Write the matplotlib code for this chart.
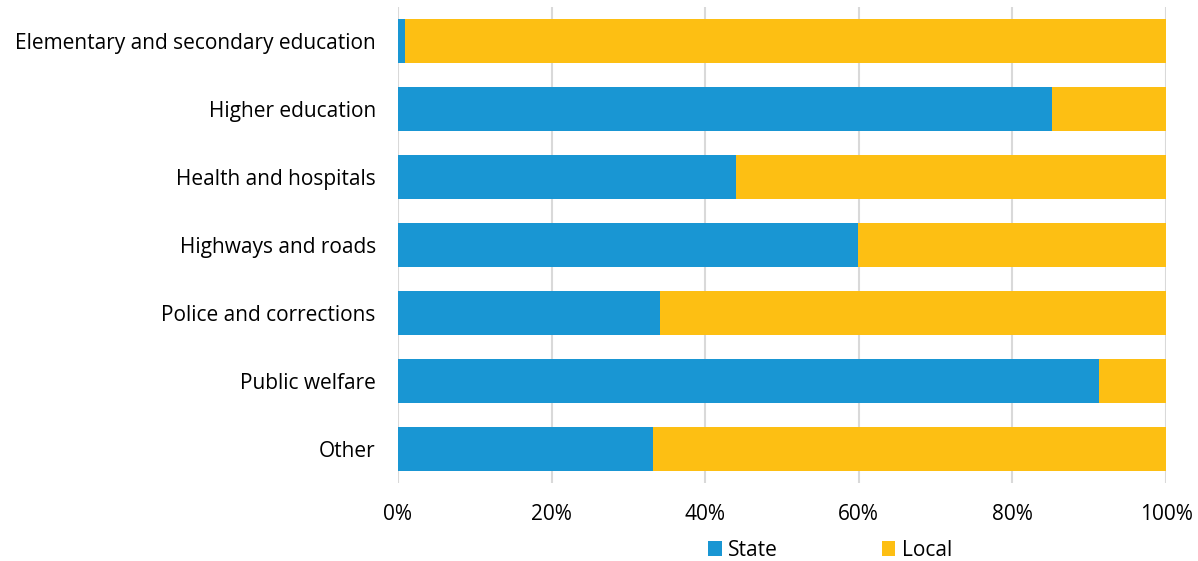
import matplotlib
matplotlib.use("Agg")
import matplotlib.pyplot as plt
from matplotlib.ticker import FuncFormatter

categories = ["Elementary and secondary education", "Higher education", "Health and hospitals",
              "Highways and roads", "Police and corrections", "Public welfare", "Other"]
state = [0.9, 85.2, 44.0, 59.9, 34.1, 91.3, 33.2]
local = [100 - s for s in state]
xticks = [0, 20, 40, 60, 80, 100]

plt.rcParams['font.family'] = ['Open Sans', 'DejaVu Sans']

fig = plt.figure(figsize=(11.98, 5.61), dpi=100)
ax = fig.add_axes([398/1198, 1 - 483/561, (1166-398)/1198, (483-7)/561])

blue = "#1996D3"
yellow = "#FDBF13"
y = list(range(len(categories)))
ax.barh(y, state, height=0.66, color=blue, label="State", zorder=3)
ax.barh(y, local, left=state, height=0.66, color=yellow, label="Local", zorder=3)

ax.set_ylim(len(categories) - 0.5, -0.5)
ax.set_xlim(0, 100)
ax.set_yticks(y)
ax.set_yticklabels(categories, fontsize=15)
ax.set_xticks(xticks)
ax.xaxis.set_major_formatter(FuncFormatter(lambda v, p: f"{v:.0f}%"))
ax.tick_params(axis='x', labelsize=15, length=0, pad=15)
ax.tick_params(axis='y', length=0, pad=16)
ax.grid(axis='x', color='#d9d9d9', linewidth=1.5, zorder=0)
for s in ax.spines.values():
    s.set_visible(False)

ax.legend(loc='center', bbox_to_anchor=(0.5625, (483-550)/476), ncol=2, frameon=False,
          fontsize=15, handlelength=0.65, handleheight=0.75, handletextpad=0.3, columnspacing=5.0,
          borderpad=0, borderaxespad=0)

fig.savefig("out.png", dpi=100)
